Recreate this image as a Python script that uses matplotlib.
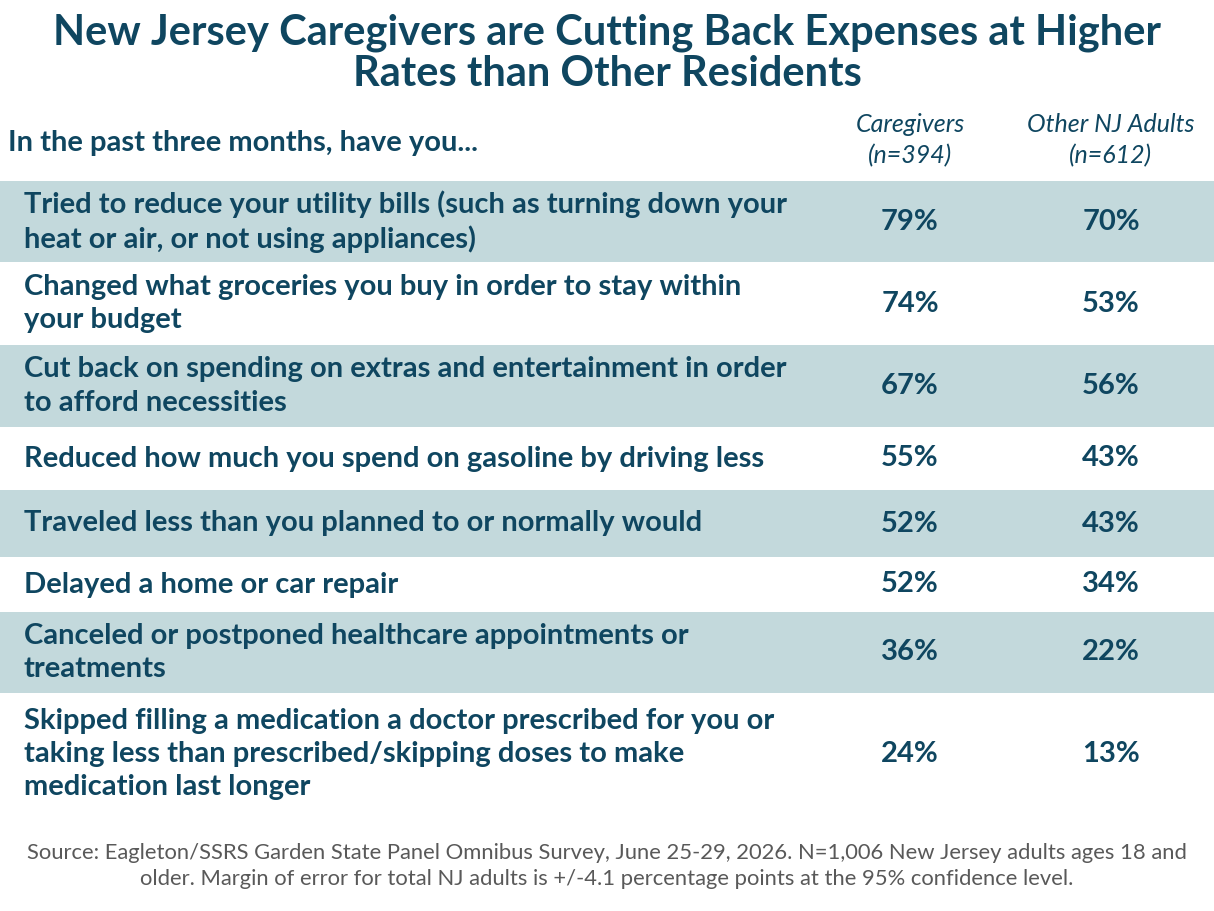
import matplotlib
matplotlib.use("Agg")
import matplotlib.pyplot as plt

plt.rcParams['font.family'] = ['Lato', 'DejaVu Sans']

TITLE = "New Jersey Caregivers are Cutting Back Expenses at Higher\nRates than Other Residents"
QUESTION = "In the past three months, have you..."
col_labels = ["Caregivers\n(n=394)", "Other NJ Adults\n(n=612)"]

items = [
    "Tried to reduce your utility bills (such as turning down your\nheat or air, or not using appliances)",
    "Changed what groceries you buy in order to stay within\nyour budget",
    "Cut back on spending on extras and entertainment in order\nto afford necessities",
    "Reduced how much you spend on gasoline by driving less",
    "Traveled less than you planned to or normally would",
    "Delayed a home or car repair",
    "Canceled or postponed healthcare appointments or\ntreatments",
    "Skipped filling a medication a doctor prescribed for you or\ntaking less than prescribed/skipping doses to make\nmedication last longer",
]
caregivers = [79, 74, 67, 55, 52, 52, 36, 24]
other_adults = [70, 53, 56, 43, 43, 34, 22, 13]

SOURCE = ("Source: Eagleton/SSRS Garden State Panel Omnibus Survey, June 25-29, 2026. N=1,006 New Jersey adults ages 18 and\n"
          "older. Margin of error for total NJ adults is +/-4.1 percentage points at the 95% confidence level.")

DARK = "#0f4660"
BAND = "#c3d9dc"
GREY = "#595959"

W, H = 1214, 911
fig = plt.figure(figsize=(W / 100, H / 100), dpi=100)
ax = fig.add_axes([0, 0, 1, 1])
ax.set_xlim(0, W)
ax.set_ylim(H, 0)
ax.axis("off")

# row edges in pixels
edges = [181, 262, 345, 427, 490, 557, 612, 693, 815]
col_x = [910, 1111]

ax.text(W / 2, 53, TITLE, ha="center", va="center", fontsize=30, fontweight="bold",
        color=DARK, linespacing=1.1)
ax.text(8, 143, QUESTION, ha="left", va="center", fontsize=21, fontweight="bold", color=DARK)
for x, lab in zip(col_x, col_labels):
    ax.text(x, 140, lab, ha="center", va="center", fontsize=18, style="italic", color=DARK,
            linespacing=1.4)

for i, (lab, a, b) in enumerate(zip(items, caregivers, other_adults)):
    top, bot = edges[i], edges[i + 1]
    mid = (top + bot) / 2
    if i % 2 == 0:
        ax.axhspan(top, bot, color=BAND, lw=0)
    ax.text(24, mid, lab, ha="left", va="center", fontsize=21, fontweight="bold",
            color=DARK, linespacing=1.35)
    ax.text(col_x[0], mid, f"{a}%", ha="center", va="center", fontsize=21,
            fontweight="bold", color=DARK)
    ax.text(col_x[1], mid, f"{b}%", ha="center", va="center", fontsize=21,
            fontweight="bold", color=DARK)

ax.text(W / 2, 866, SOURCE, ha="center", va="center", fontsize=15.8, color=GREY, linespacing=1.35)

fig.savefig("out.png", dpi=100)
